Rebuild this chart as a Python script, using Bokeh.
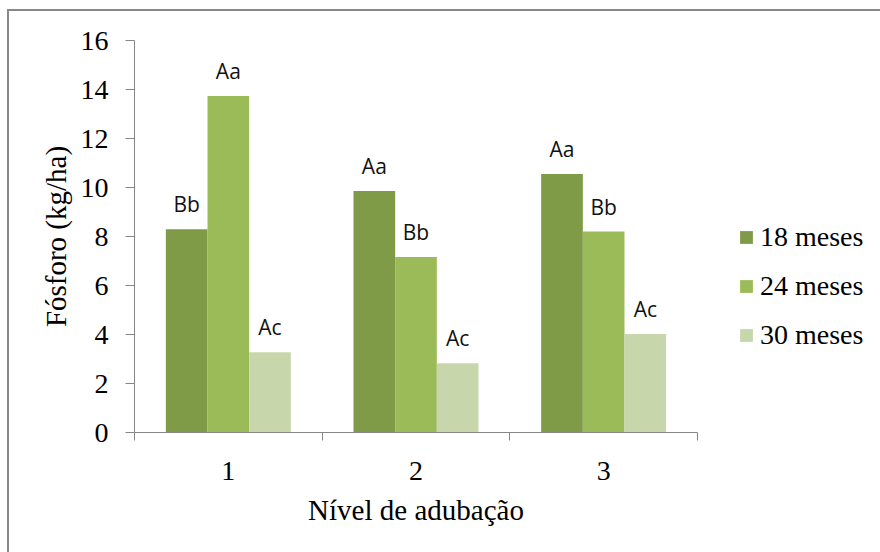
import numpy as np
from bokeh.plotting import figure
from bokeh.models import Range1d, FixedTicker, Legend, LegendItem, ColumnDataSource
from bokeh.core.properties import value
from bokeh.embed import file_html
from bokeh.resources import INLINE

# ---- data ----
categories = ["1", "2", "3"]
series_names = ["18 meses", "24 meses", "30 meses"]
values_18 = [8.30, 9.86, 10.55]
values_24 = [13.73, 7.16, 8.20]
values_30 = [3.28, 2.83, 4.02]
labels_18 = ["Bb", "Aa", "Aa"]
labels_24 = ["Aa", "Bb", "Bb"]
labels_30 = ["Ac", "Ac", "Ac"]
y_ticks = [0, 2, 4, 6, 8, 10, 12, 14, 16]
colors = ["#7F9B48", "#9BBB59", "#C8D7AB"]

series_values = [values_18, values_24, values_30]
series_labels = [labels_18, labels_24, labels_30]

SERIF = "Liberation Serif"
AXIS_COLOR = "#868686"

p = figure(
    x_range=Range1d(0, len(categories)),
    y_range=Range1d(y_ticks[0], y_ticks[-1]),
    frame_width=563, frame_height=392,
    min_border_left=125, min_border_top=29,
    min_border_right=178, min_border_bottom=120,
    output_backend="svg", toolbar_location=None,
    x_axis_label="Nível de adubação", y_axis_label="Fósforo (kg/ha)",
)
p.margin = (9, 0, 0, 7)
p.styles = {"box-sizing": "content-box",
            "border-top": "2px solid #888888", "border-left": "2px solid #888888"}
p.outline_line_color = None
p.xgrid.visible = False
p.ygrid.visible = False
p.background_fill_color = "white"
p.border_fill_color = "white"

centers = np.arange(len(categories)) + 0.5
bar_w = 0.222
offsets = [-bar_w, 0.0, bar_w]

legend_items = []
for name, vals, labs, col, off in zip(series_names, series_values, series_labels, colors, offsets):
    src = ColumnDataSource(dict(x=centers + off, top=vals, lab=labs))
    r = p.vbar(x="x", top="top", bottom=0, width=bar_w, source=src,
               fill_color=col, line_color=None)
    p.text(x="x", y="top", text="lab", source=src,
           text_font=value("Open Sans"), text_font_size="21px",
           text_align="center", text_baseline="alphabetic",
           y_offset=-25, text_color="#111111")
    legend_items.append(LegendItem(label=name, renderers=[r]))

# axes
xa = p.xaxis[0]
xa.ticker = FixedTicker(ticks=list(centers), minor_ticks=list(range(len(categories) + 1)))
xa.major_label_overrides = {float(c): lab for c, lab in zip(centers, categories)}
xa.major_tick_out = 0
xa.major_tick_in = 0
xa.minor_tick_out = 8
xa.minor_tick_in = 0
xa.minor_tick_line_color = AXIS_COLOR
xa.axis_line_color = AXIS_COLOR
xa.major_label_text_font = SERIF
xa.major_label_text_font_size = "28px"
xa.major_label_text_color = "black"
xa.major_label_standoff = 21
xa.axis_label_text_font = SERIF
xa.axis_label_text_font_size = "29px"
xa.axis_label_text_font_style = "normal"
xa.axis_label_text_color = "black"
xa.axis_label_standoff = 11

ya = p.yaxis[0]
ya.ticker = FixedTicker(ticks=y_ticks, minor_ticks=[])
ya.major_tick_out = 9
ya.major_tick_in = 0
ya.major_tick_line_color = AXIS_COLOR
ya.axis_line_color = AXIS_COLOR
ya.major_label_text_font = SERIF
ya.major_label_text_font_size = "28px"
ya.major_label_text_color = "black"
ya.major_label_standoff = 17
ya.axis_label_text_font = SERIF
ya.axis_label_text_font_size = "29px"
ya.axis_label_text_font_style = "normal"
ya.axis_label_text_color = "black"
ya.axis_label_standoff = 6

legend = Legend(items=legend_items, location=(41, 81))
legend.padding = 0
legend.margin = 0
legend.border_line_color = None
legend.background_fill_alpha = 0
legend.glyph_width = 16
legend.glyph_height = 16
legend.label_standoff = 6
legend.spacing = 17
legend.label_text_font = SERIF
legend.label_text_font_size = "28px"
legend.label_text_color = "black"
p.add_layout(legend, "right")

open("out.html", "w").write(file_html(p, INLINE))
